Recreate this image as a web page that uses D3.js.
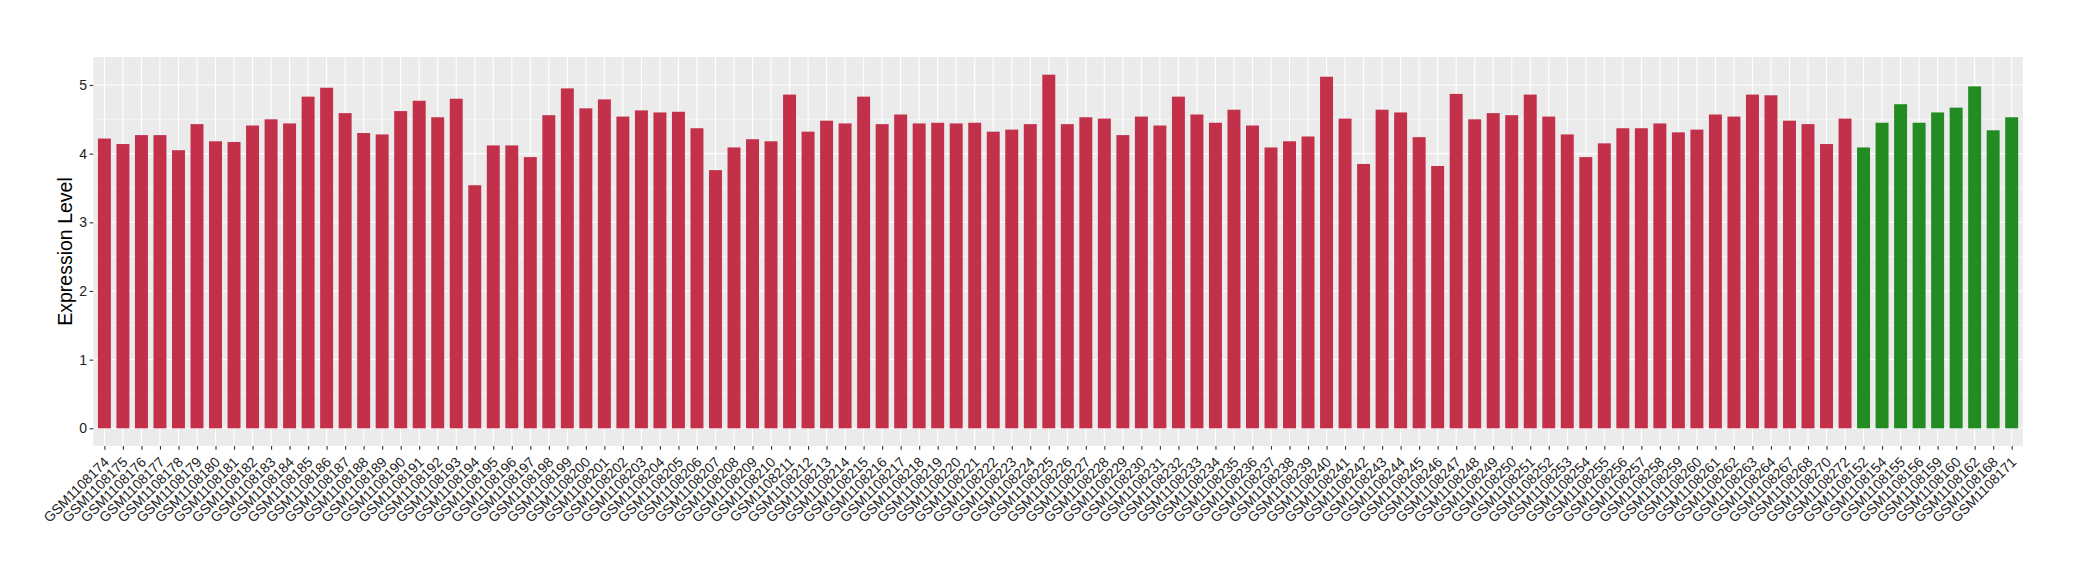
<!DOCTYPE html>
<html>
<head>
<meta charset="utf-8">
<script src="https://cdn.jsdelivr.net/npm/d3@7"></script>
<style>
  html, body { margin: 0; padding: 0; background: #ffffff; }
  svg { display: block; }
  text { font-family: "Liberation Sans", Arial, Helvetica, sans-serif; }
</style>
</head>
<body>
<svg id="chart" width="2080" height="580"></svg>
<script>
const samplesTumor = [
  "GSM1108174","GSM1108175","GSM1108176","GSM1108177","GSM1108178","GSM1108179","GSM1108180","GSM1108181",
  "GSM1108182","GSM1108183","GSM1108184","GSM1108185","GSM1108186","GSM1108187","GSM1108188","GSM1108189",
  "GSM1108190","GSM1108191","GSM1108192","GSM1108193","GSM1108194","GSM1108195","GSM1108196","GSM1108197",
  "GSM1108198","GSM1108199","GSM1108200","GSM1108201","GSM1108202","GSM1108203","GSM1108204","GSM1108205",
  "GSM1108206","GSM1108207","GSM1108208","GSM1108209","GSM1108210","GSM1108211","GSM1108212","GSM1108213",
  "GSM1108214","GSM1108215","GSM1108216","GSM1108217","GSM1108218","GSM1108219","GSM1108220","GSM1108221",
  "GSM1108222","GSM1108223","GSM1108224","GSM1108225","GSM1108226","GSM1108227","GSM1108228","GSM1108229",
  "GSM1108230","GSM1108231","GSM1108232","GSM1108233","GSM1108234","GSM1108235","GSM1108236","GSM1108237",
  "GSM1108238","GSM1108239","GSM1108240","GSM1108241","GSM1108242","GSM1108243","GSM1108244","GSM1108245",
  "GSM1108246","GSM1108247","GSM1108248","GSM1108249","GSM1108250","GSM1108251","GSM1108252","GSM1108253",
  "GSM1108254","GSM1108255","GSM1108256","GSM1108257","GSM1108258","GSM1108259","GSM1108260","GSM1108261",
  "GSM1108262","GSM1108263","GSM1108264","GSM1108267","GSM1108268","GSM1108270","GSM1108272"
];
const valuesTumor = [
  4.22, 4.14, 4.27, 4.27, 4.05, 4.43, 4.18, 4.17, 4.41, 4.50,
  4.44, 4.83, 4.96, 4.59, 4.30, 4.28, 4.62, 4.77, 4.53, 4.80,
  3.54, 4.12, 4.12, 3.95, 4.56, 4.95, 4.66, 4.79, 4.54, 4.63,
  4.60, 4.61, 4.37, 3.76, 4.09, 4.21, 4.18, 4.86, 4.32, 4.48,
  4.44, 4.83, 4.43, 4.57, 4.44, 4.45, 4.44, 4.45, 4.32, 4.35,
  4.43, 5.15, 4.43, 4.53, 4.51, 4.27, 4.54, 4.41, 4.83, 4.57,
  4.45, 4.64, 4.41, 4.09, 4.18, 4.25, 5.12, 4.51, 3.85, 4.64,
  4.60, 4.24, 3.82, 4.87, 4.50, 4.59, 4.56, 4.86, 4.54, 4.28,
  3.95, 4.15, 4.37, 4.37, 4.44, 4.31, 4.35, 4.57, 4.54, 4.86,
  4.85, 4.48, 4.43, 4.14, 4.51
];
const samplesNormal = [
  "GSM1108152","GSM1108154","GSM1108155","GSM1108156","GSM1108159",
  "GSM1108160","GSM1108162","GSM1108168","GSM1108171"
];
const valuesNormal = [4.09, 4.45, 4.72, 4.45, 4.60, 4.67, 4.98, 4.34, 4.53];
const yTicks = [0, 1, 2, 3, 4, 5];
const yMinorTicks = [0.5, 1.5, 2.5, 3.5, 4.5];
const yTitle = "Expression Level";

const data = samplesTumor.map((s, i) => ({ s, v: valuesTumor[i], g: "tumor" }))
  .concat(samplesNormal.map((s, i) => ({ s, v: valuesNormal[i], g: "normal" })));
const colors = { tumor: "#C3304A", normal: "#228B22" };

const panel = { left: 93.3, right: 2022.8, top: 57, bottom: 446 };
const svg = d3.select("#chart");

const x = d3.scalePoint().domain(data.map(d => d.s))
  .range([panel.left, panel.right]).padding(0.6);
const vmax = d3.max(data, d => d.v);
const y = d3.scaleLinear().domain([-0.05 * vmax, 1.05 * vmax])
  .range([panel.bottom, panel.top]);
const barW = x.step() * 0.7;

// panel background
svg.append("rect").attr("x", panel.left).attr("y", panel.top)
  .attr("width", panel.right - panel.left).attr("height", panel.bottom - panel.top)
  .attr("fill", "#EBEBEB");

// minor gridlines
svg.append("g").selectAll("line").data(yMinorTicks).join("line")
  .attr("x1", panel.left).attr("x2", panel.right)
  .attr("y1", d => y(d)).attr("y2", d => y(d))
  .attr("stroke", "#ffffff").attr("stroke-width", 0.55);
// major gridlines
svg.append("g").selectAll("line").data(yTicks).join("line")
  .attr("x1", panel.left).attr("x2", panel.right)
  .attr("y1", d => y(d)).attr("y2", d => y(d))
  .attr("stroke", "#ffffff").attr("stroke-width", 1.1);
svg.append("g").selectAll("line").data(data).join("line")
  .attr("x1", d => x(d.s)).attr("x2", d => x(d.s))
  .attr("y1", panel.top).attr("y2", panel.bottom)
  .attr("stroke", "#ffffff").attr("stroke-width", 1.1);

// bars
svg.append("g").selectAll("rect").data(data).join("rect")
  .attr("x", d => x(d.s) - barW / 2)
  .attr("width", barW)
  .attr("y", d => y(d.v))
  .attr("height", d => y(0) - y(d.v))
  .attr("fill", d => colors[d.g]);

// y axis
const yAxis = svg.append("g").attr("transform", `translate(${panel.left},0)`)
  .call(d3.axisLeft(y).tickValues(yTicks).tickSize(3.7).tickPadding(2.5).tickFormat(d3.format("d")));
yAxis.select(".domain").remove();
yAxis.selectAll(".tick line").attr("stroke", "#333333").attr("stroke-width", 1.1);
yAxis.selectAll(".tick text").attr("fill", "#222222").style("font-size", "14px")
  .style("font-family", "'Liberation Sans', Arial, sans-serif");

// x axis
const xAxis = svg.append("g").attr("transform", `translate(0,${panel.bottom})`)
  .call(d3.axisBottom(x).tickSize(3.7).tickPadding(2));
xAxis.select(".domain").remove();
xAxis.selectAll(".tick line").attr("stroke", "#333333").attr("stroke-width", 1.1);
xAxis.selectAll(".tick text")
  .attr("fill", "#222222").style("font-size", "14px")
  .style("font-family", "'Liberation Sans', Arial, sans-serif")
  .attr("text-anchor", "end")
  .attr("dy", null)
  .attr("x", 0).attr("y", 0)
  .attr("transform", "translate(5,17) rotate(-45)");

// y title
svg.append("text")
  .attr("transform", `translate(72,${(panel.top + panel.bottom) / 2}) rotate(-90)`)
  .attr("text-anchor", "middle")
  .style("font-size", "19.5px")
  .attr("fill", "#000000")
  .text(yTitle);
</script>
</body>
</html>
